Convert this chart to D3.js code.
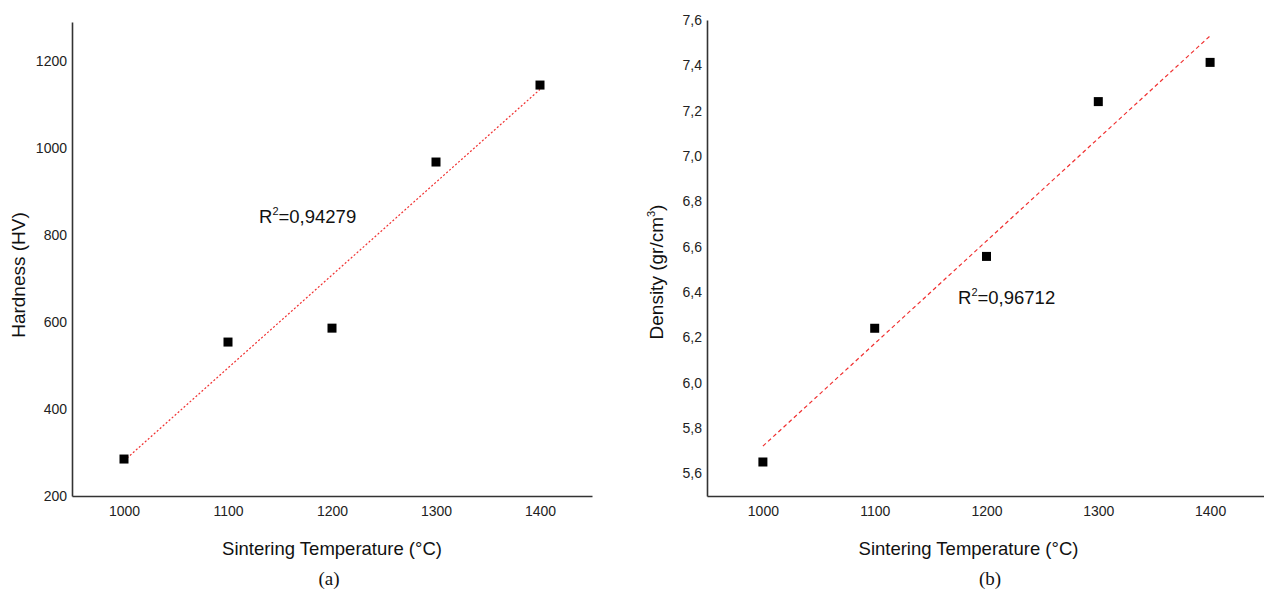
<!DOCTYPE html>
<html lang="en">
  <head>
    <meta charset="UTF-8" />
    <title>Sintering temperature</title>
    <script src="https://cdn.jsdelivr.net/npm/d3@7/dist/d3.min.js"></script>
    <style>
      html,
      body {
        margin: 0;
        padding: 0;
        background: #fff;
      }
      svg {
        display: block;
        font-family: 'Liberation Sans', Arial, sans-serif;
      }
      .tick text {
        fill: #222;
        font-size: 14px;
      }
    </style>
  </head>
  <body>
    <svg width="1264" height="599"></svg>
    <script>
      const temps = [1000, 1100, 1200, 1300, 1400];
      const hardness = [285, 554, 586, 968, 1145];
      const density = [5.65, 6.24, 6.557, 7.24, 7.413];
      // trend line ends
      const hardnessFit = [[1000, 281], [1400, 1135]];
      const densityFit = [[1000, 5.72], [1400, 7.53]];
      const hardnessTicks = [200, 400, 600, 800, 1000, 1200];
      const densityTicks = [5.6, 5.8, 6.0, 6.2, 6.4, 6.6, 6.8, 7.0, 7.2, 7.4, 7.6];

      const svg = d3.select('svg');

      function panel(opt) {
        const x = d3.scaleLinear().domain([950, 1450]).range(opt.xr);
        const y = d3.scaleLinear().domain(opt.yd).range(opt.yr);
        const g = svg.append('g');

        const xAxis = d3.axisBottom(x).tickValues(temps).tickSize(0).tickPadding(10).tickFormat(d3.format('d'));
        const yAxis = d3.axisLeft(y).tickValues(opt.ticks).tickSize(0).tickPadding(5).tickFormat(opt.fmt);

        g.append('g')
          .attr('transform', 'translate(0,' + opt.yr[0] + ')')
          .call(xAxis);
        g.append('g')
          .attr('transform', 'translate(' + opt.xr[0] + ',0)')
          .call(yAxis);

        g.selectAll('path.domain')
          .style('stroke', '#333')
          .style('stroke-width', 1.6);

        g.append('line')
          .attr('x1', x(opt.fit[0][0]))
          .attr('y1', y(opt.fit[0][1]))
          .attr('x2', x(opt.fit[1][0]))
          .attr('y2', y(opt.fit[1][1]))
          .style('stroke', '#f03030')
          .style('stroke-width', 1.2)
          .style('stroke-dasharray', opt.dash);

        g.selectAll('rect.pt')
          .data(temps)
          .enter()
          .append('rect')
          .attr('class', 'pt')
          .attr('x', function(d) {
            return x(d) - 4.5;
          })
          .attr('y', function(d, i) {
            return y(opt.vals[i]) - 4.5;
          })
          .attr('width', 9)
          .attr('height', 9)
          .style('fill', '#000');

        const r2 = g.append('text')
          .attr('x', opt.r2pos[0])
          .attr('y', opt.r2pos[1])
          .style('font-size', '18.5px')
          .style('fill', '#111');
        r2.append('tspan').text('R');
        r2.append('tspan').attr('dy', -8).style('font-size', '11px').text('2');
        r2.append('tspan').attr('dy', 8).text('=' + opt.r2);

        g.append('text')
          .attr('x', (opt.xr[0] + opt.xr[1]) / 2 + opt.xlabShift)
          .attr('y', 555)
          .attr('text-anchor', 'middle')
          .style('font-size', '18.5px')
          .style('fill', '#111')
          .text('Sintering Temperature (°C)');

        const yl = g.append('text')
          .attr('transform', 'translate(' + opt.ylab[0] + ',' + opt.ylab[1] + ') rotate(-90)')
          .attr('text-anchor', 'middle')
          .style('font-size', '19px')
          .style('fill', '#111');
        opt.ylabParts.forEach(function(p) {
          yl.append('tspan')
            .attr('dy', p.dy || 0)
            .style('font-size', p.size || null)
            .text(p.t);
        });

        g.append('text')
          .attr('x', opt.capX)
          .attr('y', 585)
          .attr('text-anchor', 'middle')
          .style('font-family', "'Liberation Serif', 'Times New Roman', serif")
          .style('font-size', '19px')
          .style('fill', '#111')
          .text(opt.cap);
      }

      panel({
        xr: [72, 592],
        yd: [200, 1290],
        yr: [496, 22],
        ticks: hardnessTicks,
        fmt: d3.format('d'),
        vals: hardness,
        fit: hardnessFit,
        dash: '2,2',
        r2: '0,94279',
        r2pos: [259, 223],
        xlabShift: 0,
        ylab: [25, 275],
        ylabParts: [{ t: 'Hardness (HV)' }],
        cap: '(a)',
        capX: 329
      });

      panel({
        xr: [707, 1266],
        yd: [5.5, 7.6],
        yr: [496, 20],
        ticks: densityTicks,
        fmt: function(d) {
          return d3.format('.1f')(d).replace('.', ',');
        },
        vals: density,
        fit: densityFit,
        dash: '4,3',
        r2: '0,96712',
        r2pos: [958, 304],
        xlabShift: -18,
        ylab: [663, 272],
        ylabParts: [
          { t: 'Density (gr/cm' },
          { t: '3', dy: -8, size: '11px' },
          { t: ')', dy: 8 }
        ],
        cap: '(b)',
        capX: 990
      });
    </script>
  </body>
</html>
